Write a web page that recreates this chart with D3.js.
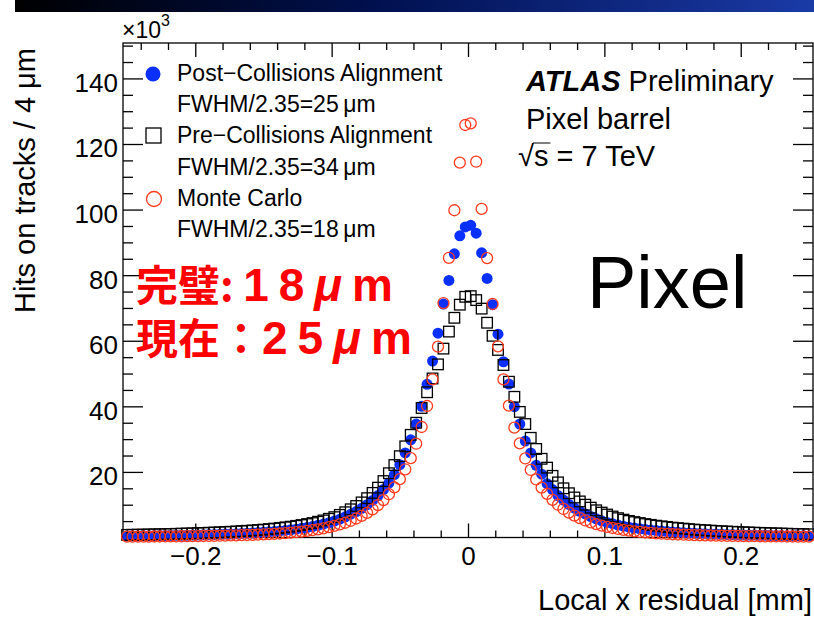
<!DOCTYPE html>
<html>
<head>
<meta charset="utf-8">
<script src="https://cdn.jsdelivr.net/npm/d3@7"></script>
<style>
  body { margin: 0; background: #fff; }
  svg { display: block; font-family: "Liberation Sans", Arial, Helvetica, sans-serif; }
</style>
</head>
<body>
<svg id="chart" width="814" height="621"></svg>
<script>
'use strict';

// 4 um bins, centres from -0.250 to +0.250 mm
const binCenters = d3.range(126).map(i => +(-0.25 + i * 0.004).toFixed(3));

// hits per bin, x10^3 (left to right)
const postAlign = [
  0.45, 0.47, 0.49, 0.51, 0.53, 0.55, 0.58, 0.6, 0.63, 0.66, 0.69, 0.72, 0.76, 0.8, 0.84, 0.88,
  0.93, 0.98, 1.04, 1.1, 1.17, 1.24, 1.32, 1.4, 1.5, 1.6, 1.72, 1.85, 2.0, 2.15, 2.35, 2.55,
  2.8, 3.05, 3.35, 3.7, 4.1, 4.5, 5.0, 5.6, 6.3, 7.1, 7.9, 8.9, 10.0, 11.3, 12.8, 14.6,
  16.6, 19.2, 22.2, 25.8, 29.8, 34.6, 40.0, 46.7, 53.8, 62.3, 71.2, 78.4, 86.5, 92.0, 94.7,
  95.2, 92.8, 86.8, 79.0, 71.0, 62.0, 53.6, 46.8, 39.9, 34.6, 29.4, 25.8, 22.0, 19.3, 16.4, 14.6,
  12.8, 11.4, 10.1, 9.0, 8.0, 7.2, 6.4, 5.7, 5.1, 4.6, 4.2, 3.8, 3.45, 3.15, 2.9, 2.65,
  2.45, 2.25, 2.1, 1.95, 1.8, 1.68, 1.57, 1.47, 1.38, 1.3, 1.22, 1.15, 1.09, 1.03, 0.98, 0.93,
  0.88, 0.84, 0.8, 0.76, 0.73, 0.7, 0.67, 0.64, 0.61, 0.59, 0.56, 0.54, 0.52, 0.5, 0.48
];
const preAlign = [
  0.8, 0.83, 0.86, 0.89, 0.92, 0.96, 1.0, 1.04, 1.08, 1.12, 1.17, 1.22, 1.27, 1.33, 1.39, 1.45,
  1.52, 1.59, 1.67, 1.75, 1.84, 1.94, 2.04, 2.15, 2.27, 2.4, 2.56, 2.72, 2.9, 3.1, 3.3, 3.55,
  3.8, 4.1, 4.4, 4.8, 5.2, 5.7, 6.2, 6.9, 7.7, 8.6, 9.6, 10.7, 12.0, 13.6, 15.2, 17.2,
  19.6, 22.1, 24.8, 27.8, 31.3, 35.0, 39.5, 44.3, 48.5, 52.8, 57.6, 62.8, 67.0, 71.0, 73.4,
  73.6, 72.4, 69.8, 65.5, 61.5, 57.2, 52.6, 47.5, 42.9, 38.3, 34.6, 30.4, 27.0, 24.0, 21.3, 18.8,
  16.8, 15.0, 13.5, 12.2, 11.0, 10.0, 9.1, 8.3, 7.6, 7.0, 6.4, 5.9, 5.45, 5.05, 4.7, 4.4,
  4.1, 3.85, 3.6, 3.4, 3.2, 3.0, 2.85, 2.7, 2.55, 2.42, 2.3, 2.2, 2.1, 2.0, 1.9, 1.82,
  1.74, 1.67, 1.6, 1.53, 1.47, 1.41, 1.35, 1.3, 1.25, 1.2, 1.15, 1.1, 1.06, 1.02, 0.98
];
const monteCarlo = [
  0.25, 0.26, 0.27, 0.28, 0.29, 0.3, 0.31, 0.33, 0.34, 0.36, 0.38, 0.4, 0.42, 0.44, 0.46, 0.49,
  0.52, 0.55, 0.58, 0.62, 0.66, 0.71, 0.76, 0.82, 0.88, 0.95, 1.03, 1.12, 1.22, 1.34, 1.47, 1.62,
  1.8, 2.0, 2.25, 2.5, 2.8, 3.15, 3.55, 4.0, 4.5, 5.1, 5.8, 6.6, 7.5, 8.6, 9.9, 11.4,
  13.2, 15.3, 17.8, 20.8, 24.2, 28.6, 33.7, 40.1, 48.2, 58.2, 71.5, 85.3, 99.8, 114.3, 125.8,
  126.3, 114.6, 100.2, 85.2, 71.2, 58.3, 48.2, 40.2, 33.5, 28.7, 24.1, 20.6, 17.7, 15.2, 13.3, 11.5,
  10.0, 8.7, 7.6, 6.7, 5.9, 5.2, 4.6, 4.1, 3.65, 3.25, 2.9, 2.6, 2.33, 2.08, 1.87, 1.69,
  1.53, 1.39, 1.27, 1.16, 1.07, 0.99, 0.92, 0.85, 0.79, 0.74, 0.69, 0.65, 0.61, 0.57, 0.54, 0.51,
  0.48, 0.46, 0.44, 0.42, 0.4, 0.38, 0.36, 0.35, 0.33, 0.32, 0.31, 0.3, 0.29, 0.28, 0.27
];

const xTicks = [-0.2, -0.1, 0, 0.1, 0.2];
const yTicks = [20, 40, 60, 80, 100, 120, 140];
const legendLabels = [
  "Post\u2212Collisions Alignment", "FWHM/2.35=25\u2009\u03bcm",
  "Pre\u2212Collisions Alignment", "FWHM/2.35=34\u2009\u03bcm",
  "Monte Carlo", "FWHM/2.35=18\u2009\u03bcm"
];
// red note lines: [CJK part, number, mu, unit]
const noteLines = [["\u5b8c\u74a7: ", "18", "\u03bc", "m"], ["\u73fe\u5728\uff1a", "25", "\u03bc", "m"]];

const colors = { post: "#0a30ff", pre: "#000000", mc: "#ff3a1c" };

const svg = d3.select("#chart");
const frame = { left: 123, right: 813, top: 43, bottom: 537.5 };

// scales
const x = d3.scaleLinear().domain([-0.253, 0.253]).range([frame.left, frame.right]);
const y = d3.scaleLinear().domain([0, 150.8]).range([frame.bottom, frame.top]);

// top banner of the slide
const grad = svg.append("defs").append("linearGradient").attr("id", "banner");
grad.append("stop").attr("offset", "0").attr("stop-color", "#000000");
grad.append("stop").attr("offset", "0.45").attr("stop-color", "#00104f");
grad.append("stop").attr("offset", "1").attr("stop-color", "#1a3aa6");
svg.append("rect").attr("x", 15).attr("y", 0).attr("width", 799).attr("height", 12)
  .attr("fill", "url(#banner)");

// axes, ROOT style: ticks inside the frame on all four sides
const styleAxis = g => {
  g.select(".domain").remove();
  g.selectAll("line").attr("stroke", "#000").attr("stroke-width", 1.3);
  g.attr("font-family", null).attr("font-size", 26);
  g.selectAll("text").attr("fill", "#000");
};
const xMinor = x.ticks(25).filter(t => !xTicks.some(v => Math.abs(v - t) < 1e-9));
const yMinor = y.ticks(30).filter(t => !yTicks.includes(t));
const fmtX = d => d === 0 ? "0" : d3.format(".1f")(d);

svg.append("g").attr("transform", `translate(0,${frame.bottom})`)
  .call(d3.axisBottom(x).tickValues(xMinor).tickSize(-7).tickFormat(""))
  .call(styleAxis);
svg.append("g").attr("transform", `translate(0,${frame.bottom})`)
  .call(d3.axisBottom(x).tickValues(xTicks).tickSize(-14).tickPadding(9).tickFormat(fmtX))
  .call(styleAxis);
svg.append("g").attr("transform", `translate(0,${frame.top})`)
  .call(d3.axisTop(x).tickValues(xMinor).tickSize(-7).tickFormat(""))
  .call(styleAxis);
svg.append("g").attr("transform", `translate(0,${frame.top})`)
  .call(d3.axisTop(x).tickValues(xTicks).tickSize(-14).tickFormat(""))
  .call(styleAxis);

svg.append("g").attr("transform", `translate(${frame.left},0)`)
  .call(d3.axisLeft(y).tickValues(yMinor).tickSize(-10).tickFormat(""))
  .call(styleAxis);
svg.append("g").attr("transform", `translate(${frame.left},0)`)
  .call(d3.axisLeft(y).tickValues(yTicks).tickSize(-20).tickPadding(5))
  .call(styleAxis)
  .call(g => g.selectAll("text").attr("dy", "0.5em"));
svg.append("g").attr("transform", `translate(${frame.right},0)`)
  .call(d3.axisRight(y).tickValues(yMinor).tickSize(-10).tickFormat(""))
  .call(styleAxis);
svg.append("g").attr("transform", `translate(${frame.right},0)`)
  .call(d3.axisRight(y).tickValues(yTicks).tickSize(-20).tickFormat(""))
  .call(styleAxis);

svg.append("rect")
  .attr("x", frame.left).attr("y", frame.top)
  .attr("width", frame.right - frame.left).attr("height", frame.bottom - frame.top)
  .attr("fill", "none").attr("stroke", "#000").attr("stroke-width", 1.3);

// x10^3 exponent
const expo = svg.append("text").attr("x", frame.left - 1).attr("y", 38).attr("font-size", 23).text("\u00d710");
expo.append("tspan").attr("dy", -12).attr("font-size", 16).text("3");

// axis titles
svg.append("text")
  .attr("transform", "translate(35,48) rotate(-90)")
  .attr("text-anchor", "end").attr("font-size", 29)
  .text("Hits on tracks / 4 \u03bcm");
svg.append("text")
  .attr("x", 812).attr("y", 610)
  .attr("text-anchor", "end").attr("font-size", 29)
  .text("Local x residual [mm]");

// data markers
const rows = binCenters.map((c, i) => ({ c, post: postAlign[i], pre: preAlign[i], mc: monteCarlo[i] }));

svg.append("g").selectAll("circle")
  .data(rows).join("circle")
  .attr("cx", d => x(d.c)).attr("cy", d => y(d.post)).attr("r", 5.5)
  .attr("fill", colors.post);

svg.append("g").selectAll("rect")
  .data(rows).join("rect")
  .attr("x", d => x(d.c) - 5.3).attr("y", d => y(d.pre) - 5.3)
  .attr("width", 10.6).attr("height", 10.6)
  .attr("fill", "none").attr("stroke", colors.pre).attr("stroke-width", 1.3);

svg.append("g").selectAll("circle")
  .data(rows).join("circle")
  .attr("cx", d => x(d.c)).attr("cy", d => y(d.mc)).attr("r", 5.5)
  .attr("fill", "none").attr("stroke", colors.mc).attr("stroke-width", 1.3);

// legend
const legend = svg.append("g").attr("font-size", 23);
legend.selectAll("text")
  .data(legendLabels).join("text")
  .attr("x", 177).attr("y", (d, i) => 81 + i * 31.2)
  .text(d => d);
legend.append("circle").attr("cx", 153).attr("cy", 74).attr("r", 7.5).attr("fill", colors.post);
legend.append("rect").attr("x", 146).attr("y", 128).attr("width", 15).attr("height", 15)
  .attr("fill", "none").attr("stroke", colors.pre).attr("stroke-width", 1.3);
legend.append("circle").attr("cx", 154).attr("cy", 199).attr("r", 7.5)
  .attr("fill", "none").attr("stroke", colors.mc).attr("stroke-width", 1.3);

// ATLAS label
const atlas = svg.append("text").attr("x", 526).attr("y", 91).attr("font-size", 29);
atlas.append("tspan").attr("font-weight", "bold").attr("font-style", "italic").text("ATLAS");
atlas.append("tspan").text(" Preliminary");
svg.append("text").attr("x", 526).attr("y", 129).attr("font-size", 29).text("Pixel barrel");
const sqrtS = svg.append("text").attr("x", 518).attr("y", 166).attr("font-size", 29).text("\u221as = 7 TeV");
const sNode = sqrtS.node();
const s0 = sNode.getStartPositionOfChar(1).x, s1 = sNode.getEndPositionOfChar(1).x;
svg.append("line").attr("x1", s0 - 1).attr("x2", s1 + 2).attr("y1", 143).attr("y2", 143)
  .attr("stroke", "#000").attr("stroke-width", 1);

svg.append("text").attr("x", 587).attr("y", 308).attr("font-size", 74).text("Pixel");

// red annotation, two lines in one text block
const note = svg.append("text")
  .attr("font-weight", "bold").attr("font-size", 42).attr("fill", "#ff0000");
noteLines.forEach((d, i) => {
  note.append("tspan").attr("x", 136).attr("y", 301 + i * 53)
    .attr("font-family", "'Noto Sans CJK JP', 'Noto Sans CJK SC', sans-serif").text(d[0]);
  note.append("tspan").attr("font-size", 46).attr("letter-spacing", 10).text(d[1]);
  note.append("tspan").attr("font-size", 46).attr("font-style", "italic").attr("letter-spacing", 10).text(d[2]);
  note.append("tspan").attr("font-size", 46).text(d[3]);
});
</script>
</body>
</html>
